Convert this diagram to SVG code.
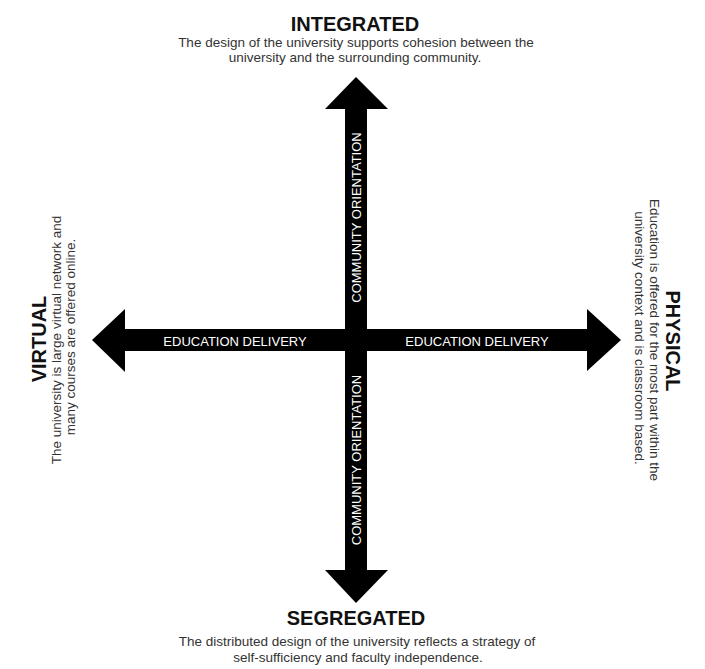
<svg xmlns="http://www.w3.org/2000/svg" width="705" height="669" viewBox="0 0 705 669">
  <style>
    .title { font-family: "Liberation Sans", Arial, sans-serif; font-size: 20px; font-weight: bold; fill: #111; text-anchor: middle; }
    .desc { font-family: "Liberation Sans", Arial, sans-serif; font-size: 13.5px; fill: #333; text-anchor: middle; }
    .lbl { font-family: "Liberation Sans", Arial, sans-serif; font-size: 13px; fill: #fff; text-anchor: middle; }
    .arrow { fill: #000; }
  </style>
  <rect width="705" height="669" fill="#fff"/>
  <g id="connectors">
    <polygon class="arrow" points="345,109 325,109 356,77 388,109 367,109 367,329 587,329 587,309 621,340 587,371 587,351 367,351 367,570 388,570 356,603 325,570 345,570 345,351 125,351 125,372 92,340 125,309 125,329 345,329"/>
    <text class="lbl" x="235" y="345.5">EDUCATION DELIVERY</text>
    <text class="lbl" x="477" y="345.5">EDUCATION DELIVERY</text>
    <text class="lbl" transform="translate(361,217.5) rotate(-90)">COMMUNITY ORIENTATION</text>
    <text class="lbl" transform="translate(361,460) rotate(-90)">COMMUNITY ORIENTATION</text>
  </g>
  <g id="integrated">
    <text class="title" x="355" y="31">INTEGRATED</text>
    <text class="desc" x="356" y="47">The design of the university supports cohesion between the</text>
    <text class="desc" x="355" y="62">university and the surrounding community.</text>
  </g>
  <g id="segregated">
    <text class="title" x="356" y="625">SEGREGATED</text>
    <text class="desc" x="357" y="646">The distributed design of the university reflects a strategy of</text>
    <text class="desc" x="358" y="662">self-sufficiency and faculty independence.</text>
  </g>
  <g id="virtual" transform="translate(0,340) rotate(-90)">
    <text class="title" x="1" y="46">VIRTUAL</text>
    <text class="desc" x="0" y="61">The university is large virtual network and</text>
    <text class="desc" x="3" y="75">many courses are offered online.</text>
  </g>
  <g id="physical" transform="translate(0,340) rotate(90)">
    <text class="title" x="1" y="-666">PHYSICAL</text>
    <text class="desc" x="0" y="-650">Education is offered for the most part within the</text>
    <text class="desc" x="-2" y="-635">university context and is classroom based.</text>
  </g>
</svg>
